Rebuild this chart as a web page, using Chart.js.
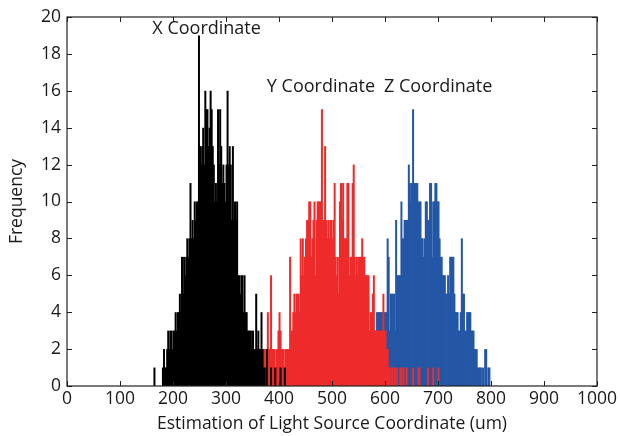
<!DOCTYPE html>
<html>
<head>
<meta charset="utf-8">
<script src="https://cdn.jsdelivr.net/npm/chart.js@4.4.1/dist/chart.umd.min.js"></script>
<style>
  html, body { margin: 0; padding: 0; background: #ffffff; }
  #wrap { width: 620px; height: 436px; }
</style>
</head>
<body>
<div id="wrap"><canvas id="c" width="620" height="436"></canvas></div>
<script>
// ---- data (histogram counts, bin width in um) ----
const binWidth = 2;
const seriesNames = ['X Coordinate', 'Y Coordinate', 'Z Coordinate'];
const xStart = 164;
const xCounts = [
  1,0,0,0,0,0,0,0,
  1,2,1,1,2,3,2,3,3,2,
  3,3,4,3,4,4,5,4,7,5,
  7,6,7,8,7,8,11,8,9,8,
  10,9,10,10,19,13,12,13,14,12,
  16,15,15,13,14,16,15,13,12,10,
  11,10,15,12,15,13,11,12,11,10,
  12,16,12,13,12,9,13,9,10,9,
  10,6,6,5,6,6,4,6,4,4,
  3,3,3,3,2,3,2,2,5,2,
  3,2,2,4,2,1,1,0,2,0,
  0,0,1,0,0,0,1,0,0,0,
  0,1,0,0,0,1
];
const yStart = 356;
const yCounts = [
  1,2,1,2,2,1,2,2,2,1,
  2,4,2,2,6,2,2,2,1,2,
  2,3,4,3,2,2,2,1,2,2,
  2,2,7,3,3,4,5,4,5,5,
  5,4,8,6,8,6,7,8,9,9,
  10,10,7,8,9,10,6,9,10,10,
  10,10,15,9,9,13,9,8,9,8,
  9,9,8,9,11,7,6,7,5,10,
  11,9,11,8,8,8,11,11,6,7,
  7,11,12,7,6,7,6,7,7,7,
  8,7,7,6,6,6,6,3,4,4,
  5,6,3,3,3,3,3,3,3,3,
  5,3,3,2,2,1,1,0,1,1,
  0,1,0,1,0,0,1,1,0,1,
  0,0,1,0,0,0,0,0,1,0,
  0,0,0,1,1,0,0,0,0,0,
  0,0,1,0,0,0,0,1,0,0,
  0,0,1
];
const zStart = 572;
const zCounts = [
  1,2,1,2,2,3,4,4,4,4,
  4,4,4,4,4,4,8,7,3,5,
  5,5,5,3,9,6,6,6,6,10,
  8,8,9,9,9,9,12,11,10,11,
  15,11,11,11,11,10,10,10,8,8,
  7,8,10,10,9,9,11,11,7,10,
  10,11,11,10,10,8,7,7,6,6,
  6,5,5,6,5,7,7,7,7,5,
  4,4,4,3,3,4,8,5,5,3,
  3,4,4,4,4,3,3,3,2,2,
  2,1,1,1,1,0,1,0,2,2,
  0,1,1
];
const xTickValues = [0,100,200,300,400,500,600,700,800,900,1000];
const yTickValues = [0,2,4,6,8,10,12,14,16,18,20];
const xAxisTitle = 'Estimation of Light Source Coordinate (um)';
const yAxisTitle = 'Frequency';

// ---- build histogram points ----
function toPoints(start, counts) {
  return counts.map((c, i) => ({ x: start + i * binWidth + binWidth / 2, y: c }));
}

const FONT = '"Open Sans", "Noto Sans", sans-serif';
const TEXT = '#1a1a1a';
const AXIS = '#222222';

const annotationPlugin = {
  id: 'annotations',
  afterDatasetsDraw(chart) {
    const { ctx, chartArea: a, scales: { x, y } } = chart;
    ctx.save();
    ctx.strokeStyle = AXIS;
    ctx.lineWidth = 1.2;
    ctx.strokeRect(a.left, a.top, a.right - a.left, a.bottom - a.top);
    const tl = 5;
    ctx.beginPath();
    xTickValues.forEach(v => {
      const px = Math.round(x.getPixelForValue(v)) + 0.5;
      ctx.moveTo(px, a.bottom); ctx.lineTo(px, a.bottom - tl);
      ctx.moveTo(px, a.top); ctx.lineTo(px, a.top + tl);
    });
    yTickValues.forEach(v => {
      const py = Math.round(y.getPixelForValue(v)) + 0.5;
      ctx.moveTo(a.left, py); ctx.lineTo(a.left + tl, py);
      ctx.moveTo(a.right, py); ctx.lineTo(a.right - tl, py);
    });
    ctx.lineWidth = 1;
    ctx.stroke();
    const labels = chart.options.plugins.annotations.labels;
    ctx.fillStyle = TEXT;
    ctx.font = '18px ' + FONT;
    ctx.textAlign = 'left';
    ctx.textBaseline = 'middle';
    labels.forEach(l => {
      ctx.fillText(seriesNames[l.series], x.getPixelForValue(l.x), y.getPixelForValue(l.y));
    });
    ctx.restore();
  }
};

new Chart(document.getElementById('c'), {
  type: 'bar',
  data: {
    datasets: [
      { label: seriesNames[0], data: toPoints(xStart, xCounts), backgroundColor: '#000000' },
      { label: seriesNames[1], data: toPoints(yStart, yCounts), backgroundColor: '#EE2B2B' },
      { label: seriesNames[2], data: toPoints(zStart, zCounts), backgroundColor: '#2457A6' }
    ]
  },
  options: {
    responsive: false,
    animation: false,
    devicePixelRatio: 1,
    layout: { padding: { top: 17, right: 23, left: 0, bottom: 0 } },
    datasets: {
      bar: { grouped: false, barPercentage: 1.9, categoryPercentage: 1, borderWidth: 0, inflateAmount: 0 }
    },
    plugins: {
      legend: { display: false },
      tooltip: { enabled: false },
      annotations: {
        labels: [
          { series: 0, x: 161, y: 19.35 },
          { series: 1, x: 377, y: 16.2 },
          { series: 2, x: 598, y: 16.2 }
        ]
      }
    },
    scales: {
      x: {
        type: 'linear',
        min: 0, max: 1000,
        offset: false,
        afterFit: s => { s.height = 50; },
        afterBuildTicks: s => { s.ticks = xTickValues.map(v => ({ value: v })); },
        grid: { display: false, drawTicks: false },
        border: { display: false },
        ticks: { color: TEXT, font: { family: FONT, size: 17.5 }, padding: 3, maxRotation: 0, autoSkip: false,
                 callback: v => String(v) },
        title: { display: true, text: xAxisTitle, color: TEXT, font: { family: FONT, size: 17.5 }, padding: { top: 0, bottom: 1 } }
      },
      y: {
        min: 0, max: 20,
        afterFit: s => { s.width = 67; },
        afterBuildTicks: s => { s.ticks = yTickValues.map(v => ({ value: v })); },
        grid: { display: false, drawTicks: false },
        border: { display: false },
        ticks: { color: TEXT, font: { family: FONT, size: 17.5 }, padding: 6, autoSkip: false,
                 callback: v => String(v) },
        title: { display: true, text: yAxisTitle, color: TEXT, font: { family: FONT, size: 17.5 }, padding: { top: 7, bottom: 0 } }
      }
    }
  },
  plugins: [annotationPlugin]
});
</script>
</body>
</html>
